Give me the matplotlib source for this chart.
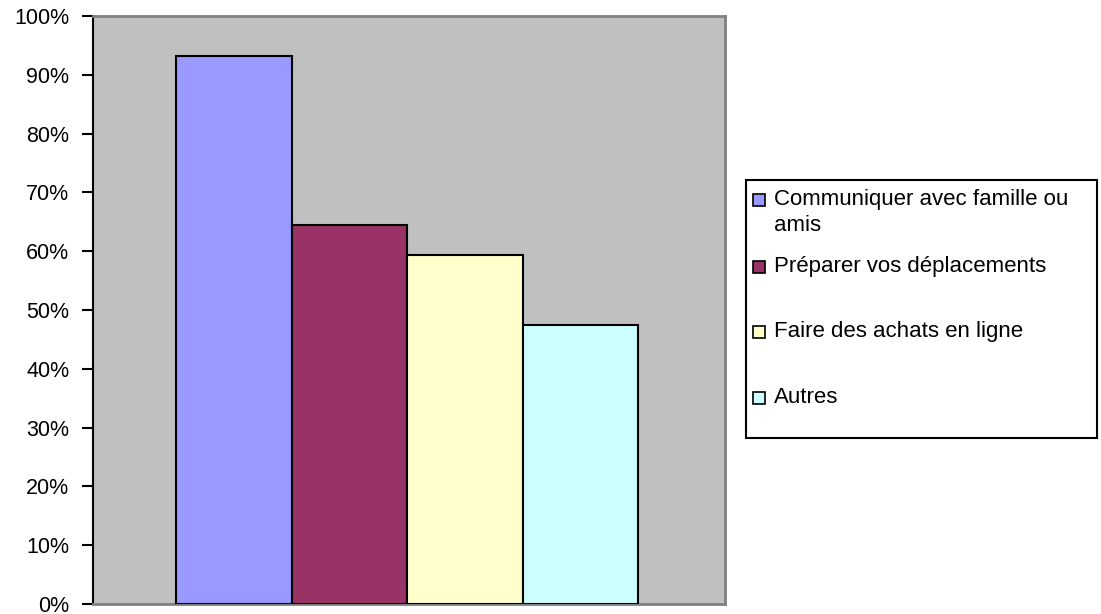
import matplotlib
matplotlib.use("Agg")
import matplotlib.pyplot as plt
from matplotlib.patches import Rectangle
from matplotlib.ticker import MultipleLocator, PercentFormatter

# Share of respondents per internet use
labels = ["Communiquer avec famille ou\namis", "Préparer vos déplacements",
          "Faire des achats en ligne", "Autres"]
values = [93.2, 64.5, 59.3, 47.4]
colors = ["#9999FF", "#993366", "#FFFFCC", "#CCFFFF"]

plt.rcParams["font.family"] = ["Liberation Sans", "DejaVu Sans"]

W, H = 1101, 614
fig = plt.figure(figsize=(W / 100, H / 100), dpi=100)
ax = fig.add_axes([93 / W, (H - 604) / H, 632 / W, 588 / H])
ax.set_facecolor("#C0C0C0")

# one category, four series side by side
pos = [i - 1.5 for i in range(len(values))]
bars = ax.bar(pos, values, width=1.0, color=colors, edgecolor="black",
              linewidth=1.5, zorder=3)
ax.set_xlim(-2.72, 2.75)
ax.set_ylim(0, 100)
ax.set_xticks([])
ax.yaxis.set_major_locator(MultipleLocator(10))
ax.yaxis.set_major_formatter(PercentFormatter(decimals=0))
ax.tick_params(axis="y", length=8, width=1.5, pad=9, labelsize=15.5,
               color="black")

for side in ["top", "right", "bottom"]:
    ax.spines[side].set_color("#808080")
    ax.spines[side].set_linewidth(2)
ax.spines["left"].set_color("black")
ax.spines["left"].set_linewidth(1.5)

# legend box drawn in pixel coordinates of the figure
def px(x, y):
    return x / W, 1 - y / H

lx0, ly0, lx1, ly1 = 746, 180, 1097, 438
x0, y0 = px(lx0, ly1)
fig.patches.append(Rectangle((x0, y0), (lx1 - lx0) / W, (ly1 - ly0) / H,
                             transform=fig.transFigure, facecolor="white",
                             edgecolor="black", linewidth=1.5))
rows = [200, 267, 332, 398]
for lab, col, yc in zip(labels, colors, rows):
    sx, sy = px(753, yc + 6)
    fig.patches.append(Rectangle((sx, sy), 12 / W, 12 / H,
                                 transform=fig.transFigure, facecolor=col,
                                 edgecolor="black", linewidth=1.2))
    tx, ty = px(774, yc - 11)
    fig.text(tx, ty, lab, fontsize=16, va="top", ha="left",
             linespacing=1.3)

fig.savefig("out.png", dpi=100)
